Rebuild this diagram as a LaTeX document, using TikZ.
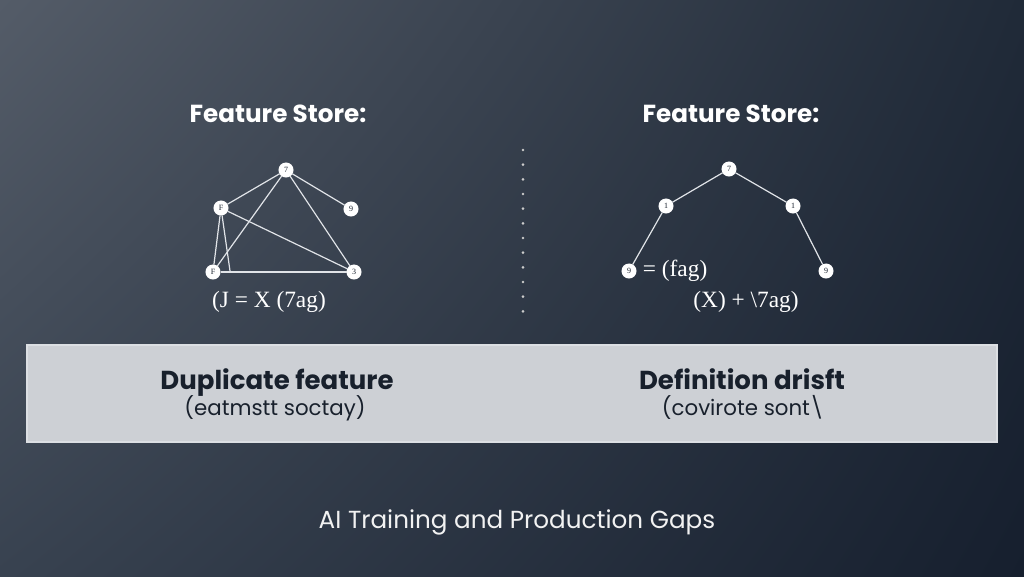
\documentclass[tikz,border=0pt]{standalone}
\usepackage{fontspec}
\usetikzlibrary{shadings}
\setmainfont{Liberation Serif}
\newfontfamily\headfont{Poppins}
\definecolor{bgtl}{RGB}{84,92,104}
\definecolor{bgtr}{RGB}{32,42,56}
\definecolor{bgbl}{RGB}{56,66,80}
\definecolor{bgbr}{RGB}{22,31,46}
\definecolor{bandfill}{RGB}{205,208,213}
\definecolor{bandline}{RGB}{220,223,227}
\definecolor{darkink}{RGB}{24,32,44}
\definecolor{edgegray}{RGB}{225,228,232}
\tikzset{every picture/.style={line width=0.75pt}}

\begin{document}
\begin{tikzpicture}[x=0.75pt,y=0.75pt,yscale=-1,xscale=1,
  vtx/.style={circle,fill=white,draw=white,inner sep=0pt,minimum size=10.5pt,text=darkink,font=\fontsize{6}{6}\selectfont},
  edge/.style={draw=edgegray,line width=0.9pt},
  heading/.style={text=white,anchor=base,font=\headfont\bfseries\fontsize{18.5}{22}\selectfont},
  formula/.style={text=white,font=\fontsize{17.5}{20}\selectfont},
  bandhead/.style={text=darkink,anchor=base,font=\headfont\bfseries\fontsize{19.5}{23}\selectfont},
  bandsub/.style={text=darkink,anchor=base,font=\headfont\fontsize{16}{19}\selectfont}]
\useasboundingbox (0,0) rectangle (1024,576);

%Background
\shade [upper left=bgtl, upper right=bgtr, lower left=bgbl, lower right=bgbr] (0,0) rectangle (1024,576);

% Text Node
\node [heading] (headL) at (278,122) {Feature Store:};
% Text Node
\node [heading] (headR) at (731,122) {Feature Store:};

%Divider
\coordinate (divtop) at (523,150);
\coordinate (divbot) at (523,326);
\draw [white!80!black, line width=2.2pt, line cap=round, dash pattern=on 0pt off 11pt] (divtop) -- (divbot);

%Left graph
\node [vtx] (l7) at (286,170) {7};
\node [vtx] (lF) at (221,208) {F};
\node [vtx] (l9) at (351,209) {9};
\node [vtx] (lB) at (213,272) {F};
\node [vtx] (l3) at (354,272) {3};
\coordinate (lfoot) at (230,271);
\draw [edge] (l7) -- (lF);
\draw [edge] (l7) -- (l9);
\draw [edge] (l7) -- (lB);
\draw [edge] (l7) -- (l3);
\draw [edge] (lF) -- (l3);
\draw [edge] (lB) -- (l3);
\draw [edge] (lF) -- (lB);
\draw [edge] (lF) -- (lfoot);
% Text Node
\node [formula] (formL) at (269,302) {(J = X (7ag)};

%Right graph
\node [vtx] (r7) at (729,169) {7};
\node [vtx] (r1a) at (666,206) {1};
\node [vtx] (r1b) at (793,206) {1};
\node [vtx] (r9a) at (629,271) {9};
\node [vtx] (r9b) at (826,271) {9};
\draw [edge] (r7) -- (r1a);
\draw [edge] (r7) -- (r1b);
\draw [edge] (r1a) -- (r9a);
\draw [edge] (r1b) -- (r9b);
% Text Node
\node [formula, anchor=west] (formR1) at (638,271) {= (fag)};
% Text Node
\node [formula] (formR2) at (746,302) {(X) + \textbackslash 7ag)};

%Band
\draw [fill=bandfill, draw=bandline, line width=1pt] (27,345) rectangle (997,442);
% Text Node
\node [bandhead] (dupT) at (277,389) {Duplicate feature};
% Text Node
\node [bandsub] (dupS) at (275,415) {(eatmstt soctay)};
% Text Node
\node [bandhead] (defT) at (742,389) {Definition drisft};
% Text Node
\node [bandsub] (defS) at (743,415) {(covirote sont\textbackslash};

% Text Node
\node [text=white!95!black, anchor=base, font=\headfont\fontsize{18.5}{22}\selectfont] (title) at (517,528) {AI Training and Production Gaps};

\end{tikzpicture}
\end{document}
